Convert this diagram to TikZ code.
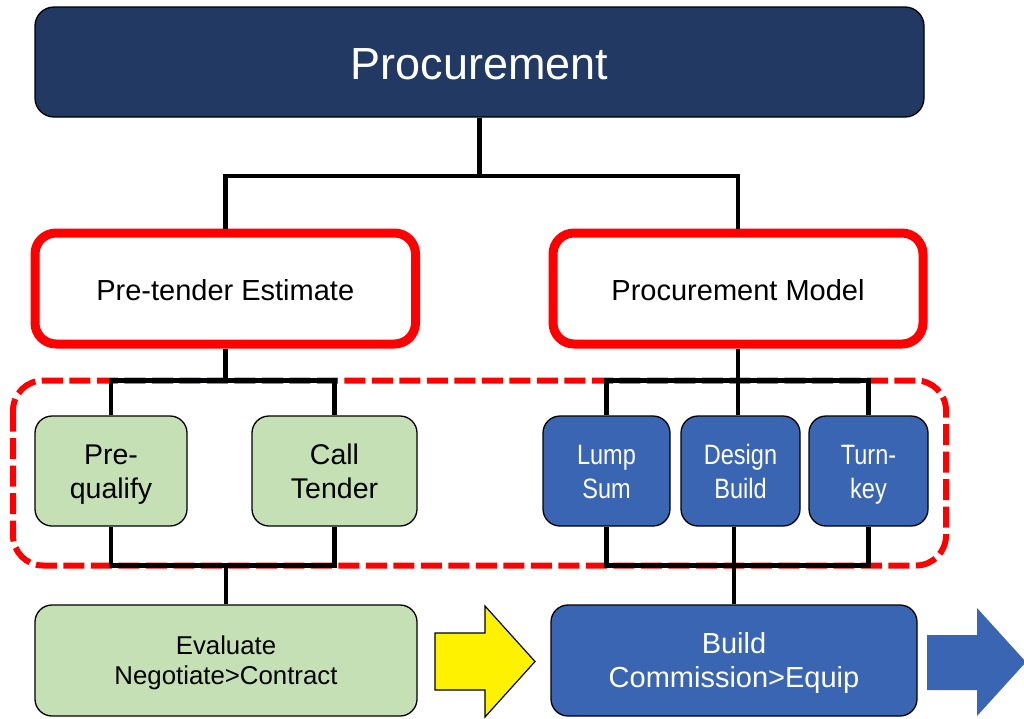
\documentclass[tikz,border=0pt]{standalone}
\usepackage{fontspec}
\setmainfont{Liberation Sans}
\newfontfamily\narrowsans[FakeStretch=0.84]{Liberation Sans}
\definecolor{navy}{RGB}{33,57,99}
\definecolor{boxblue}{RGB}{58,101,178}
\definecolor{lgreen}{RGB}{197,224,180}
% line struts: height/depth chosen to place baselines as in the reference
\newcommand\stT{\rule[-10pt]{0pt}{54pt}}
\newcommand\stR{\rule[-5pt]{0pt}{33pt}}
\newcommand\stS{\rule[-7pt]{0pt}{34pt}}
\newcommand\stE{\rule[-6.5pt]{0pt}{30pt}}
\newcommand\stB{\rule[-7.5pt]{0pt}{34pt}}
\begin{document}
\begin{tikzpicture}[x=1pt,y=-1pt,
  basebox/.style={draw=black, line width=1.3pt, rounded corners=17pt, align=center, inner sep=0pt, minimum height=110pt},
  titlebox/.style={basebox, fill=navy, text=white, rounded corners=19pt, font=\fontsize{45}{54}\selectfont},
  redbox/.style={draw=red, line width=9pt, fill=white, rounded corners=21pt, align=center, inner sep=0pt, minimum height=111pt, font=\fontsize{29}{34}\selectfont},
  greenbox/.style={basebox, fill=lgreen, font=\fontsize{28.5}{34}\selectfont},
  bluebox/.style={basebox, fill=boxblue, text=white, font=\narrowsans\fontsize{28}{34}\selectfont},
  conn/.style={draw=black, line width=4.5pt},
  groupframe/.style={draw=red, line width=6pt, dash pattern=on 21pt off 6.5pt, rounded corners=30pt},
  bigarrow/.style={line width=1.2pt}
]
\useasboundingbox (0,0) rectangle (1024,718);

% dashed grouping frame
\draw[groupframe] (13,380.5) rectangle (946,565.5);

% nodes
\node[titlebox, minimum width=889pt] (proc) at (479.5,62) {\stT Procurement};
\node[redbox, minimum width=380.5pt] (pte) at (225.25,288.5) {\stR Pre-tender Estimate};
\node[redbox, minimum width=370pt] (pm) at (738,288.5) {\stR Procurement Model};
\node[greenbox, minimum width=152pt] (pq) at (111,471) {\stS Pre-\\\stS qualify};
\node[greenbox, minimum width=165pt] (ct) at (334.5,471) {\stS Call\\\stS Tender};
\node[bluebox, minimum width=127pt] (ls) at (606.5,471) {\stS Lump\\\stS Sum};
\node[bluebox, minimum width=119pt] (db) at (740.5,471) {\stS Design\\\stS Build};
\node[bluebox, minimum width=119pt] (tk) at (868.5,471) {\stS Turn-\\\stS key};
\node[greenbox, minimum width=382pt, minimum height=111pt, font=\fontsize{25.8}{30}\selectfont] (ev) at (226,660.5) {\stE Evaluate\\\stE Negotiate>Contract};
\node[bluebox, minimum width=366pt, minimum height=111pt, font=\fontsize{29}{34}\selectfont] (bc) at (734,660.5) {\stB Build\\\stB Commission>Equip};

% bus coordinates
\coordinate (busA) at (0,176);
\coordinate (busB) at (0,380.5);
\coordinate (busC) at (0,565.5);

% connectors: title to second row
\draw[conn] (proc.south) -- (proc.south |- busA) -| (pte.north);
\draw[conn] (proc.south |- busA) -| (pm.north);

% left branch
\draw[conn] (pte.south) -- (pte.south |- busB);
\draw[conn] (pq.north) |- (ct.north |- busB) -- (ct.north);
\draw[conn] (pq.south) |- (ct.south |- busC) -- (ct.south);
\draw[conn] (ev.north) -- (ev.north |- busC);

% right branch
\draw[conn] (pm.south) -- (pm.south |- busB);
\draw[conn] (ls.north) |- (tk.north |- busB) -- (tk.north);
\draw[conn] (db.north -| pm.south) -- (pm.south |- busB);
\draw[conn] (ls.south) |- (tk.south |- busC) -- (tk.south);
\draw[conn] (db.south -| bc.north) -- (bc.north |- busC);
\draw[conn] (bc.north) -- (bc.north |- busC);

% block arrows
\draw[bigarrow, fill=yellow, draw=black] (435,633) -- (485,633) -- (485,606) -- (535,661.5) -- (485,717) -- (485,690) -- (435,690) -- cycle;
\fill[boxblue] (927,635) -- (977,635) -- (977,608) -- (1026,662) -- (977,716) -- (977,690) -- (927,690) -- cycle;
\end{tikzpicture}
\end{document}
